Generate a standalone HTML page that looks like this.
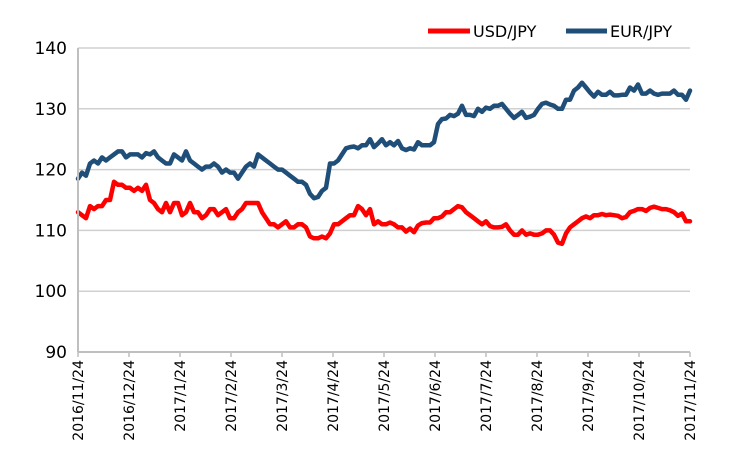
<!DOCTYPE html>
<html><head><meta charset="utf-8"><style>
body{margin:0;background:#fff;}
svg{display:block;font-family:"DejaVu Sans","Liberation Sans","Noto Sans CJK JP",sans-serif;}
</style></head><body>
<svg id="chart" width="741" height="467">
<g id="grid"></g><g id="series"></g><g id="axes"></g>
<g>
<line x1="428" y1="31" x2="470" y2="31" stroke="#ff0000" stroke-width="5"/>
<text x="473" y="37" font-size="16" fill="#000">USD/JPY</text>
<line x1="566" y1="31" x2="607" y2="31" stroke="#1f4e79" stroke-width="5"/>
<text x="610" y="37" font-size="16" fill="#000">EUR/JPY</text>
</g>
</svg>
<script>
const xLabels=["2016/11/24","2016/12/24","2017/1/24","2017/2/24","2017/3/24","2017/4/24","2017/5/24","2017/6/24","2017/7/24","2017/8/24","2017/9/24","2017/10/24","2017/11/24"];
const yTicks=[90,100,110,120,130,140];
const usd=[113,112.5,112,114,113.5,114,114,115,115,118,117.5,117.5,117,117,116.5,117,116.5,117.5,115,114.5,113.5,113,114.5,113,114.5,114.5,112.5,113,114.5,113,113,112,112.5,113.5,113.5,112.5,113,113.5,112,112,113,113.5,114.5,114.5,114.5,114.5,113,112,111,111,110.5,111,111.5,110.5,110.5,111,111,110.5,109,108.7,108.7,109,108.7,109.5,111,111,111.5,112,112.5,112.5,114,113.5,112.5,113.5,111,111.5,111,111,111.3,111,110.5,110.5,109.8,110.3,109.7,110.8,111.2,111.3,111.3,112,112,112.3,113,113,113.5,114,113.8,113,112.5,112,111.5,111,111.5,110.7,110.5,110.5,110.6,111,110,109.3,109.3,110,109.3,109.5,109.3,109.3,109.5,110,110,109.3,108,107.8,109.5,110.5,111,111.5,112,112.3,112,112.5,112.5,112.7,112.5,112.6,112.5,112.4,112,112.2,113,113.2,113.5,113.5,113.2,113.7,113.9,113.7,113.5,113.5,113.3,113,112.4,112.8,111.5,111.5];
const eur=[118.5,119.5,119,121,121.5,121,122,121.5,122,122.5,123,123,122,122.5,122.5,122.5,122,122.7,122.5,123,122,121.5,121,121,122.5,122,121.5,123,121.5,121,120.5,120,120.5,120.5,121,120.5,119.5,120,119.5,119.5,118.5,119.5,120.5,121,120.5,122.5,122,121.5,121,120.5,120,120,119.5,119,118.5,118,118,117.5,116,115.3,115.5,116.5,117,121,121,121.5,122.5,123.5,123.7,123.8,123.5,124,124,125,123.7,124.3,125,124,124.5,124,124.7,123.5,123.2,123.5,123.3,124.5,124,124,124,124.5,127.5,128.3,128.4,129,128.8,129.2,130.5,129,129,128.8,130,129.5,130.2,130,130.5,130.5,130.8,130,129.2,128.5,129,129.5,128.5,128.7,129,130,130.8,131,130.7,130.5,130,130,131.5,131.5,133,133.5,134.3,133.5,132.7,132,132.8,132.3,132.3,132.8,132.2,132.2,132.3,132.3,133.5,133,134,132.5,132.5,133,132.5,132.3,132.5,132.5,132.5,133,132.3,132.3,131.5,133];
const X0=78,X1=690,Y0=352,Y1=48;
const ys=v=>Y0-(v-90)/50*(Y0-Y1);
const xi=(i,n)=>X0+i/(n-1)*(X1-X0);
const NS="http://www.w3.org/2000/svg";
const mk=(t,a,p)=>{const e=document.createElementNS(NS,t);for(const k in a)e.setAttribute(k,a[k]);p.appendChild(e);return e;};
const grid=document.getElementById('grid'),axes=document.getElementById('axes'),ser=document.getElementById('series');
yTicks.forEach(v=>{
  if(v>90){const g=mk('line',{x1:X0,x2:X1,y1:ys(v),y2:ys(v),stroke:'#d0d0d0','stroke-width':1.5},grid);
  
  }
  const t=mk('text',{x:67,y:ys(v)+6,'text-anchor':'end','font-size':17,fill:'#000'},axes);t.textContent=v;
  
  
});
const ax=mk('line',{x1:X0,x2:X0,y1:Y1,y2:Y0,stroke:'#bfbfbf','stroke-width':2},axes);


const bx=mk('line',{x1:X0,x2:X1,y1:Y0,y2:Y0,stroke:'#bfbfbf','stroke-width':2},axes);


xLabels.forEach((l,i)=>{
  const x=xi(i,xLabels.length);
  const tk=mk('line',{x1:x,x2:x,y1:Y0,y2:Y0+5,stroke:'#bfbfbf','stroke-width':1.5},axes);
  
  
  const t=mk('text',{x:0,y:0,'text-anchor':'end','font-size':14,fill:'#000',transform:`translate(${x+5},${Y0+8}) rotate(-90)`},axes);
  t.textContent=l;
  
  
});
function draw(d,c,name){
  const pts=d.map((v,i)=>xi(i,d.length).toFixed(1)+','+ys(v).toFixed(1)).join(' ');
  const p=mk('polyline',{points:pts,fill:'none',stroke:c,'stroke-width':4.5,'stroke-linejoin':'round','stroke-linecap':'round'},ser);
  
  
}
draw(usd,'#ff0000','usd-jpy-line');
draw(eur,'#1f4e79','eur-jpy-line');
</script>
</body></html>
